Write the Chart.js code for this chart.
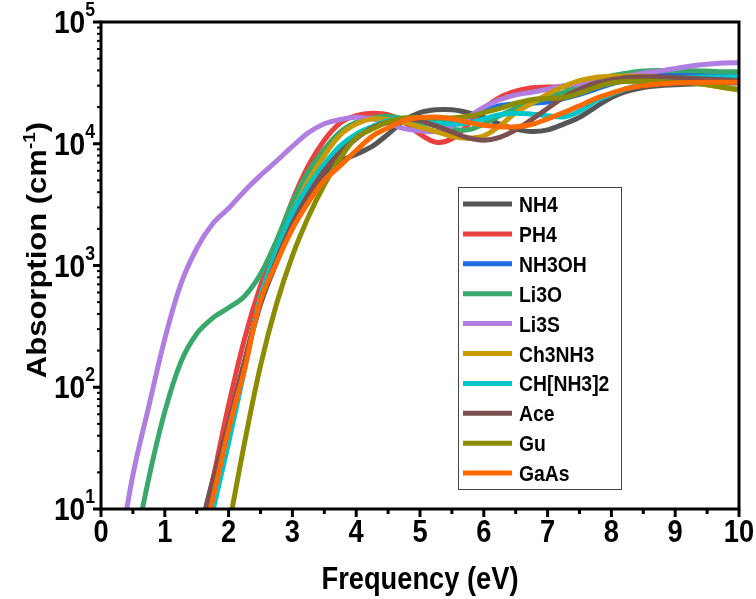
<!DOCTYPE html>
<html><head><meta charset="utf-8">
<script src="https://cdn.jsdelivr.net/npm/chart.js@4.4.1/dist/chart.umd.min.js"></script>
<style>html,body{margin:0;padding:0;background:#fff}#wrap{width:756px;height:599px}</style>
</head><body><div id="wrap"><canvas id="c" width="756" height="599"></canvas></div>
<script>
// Photon energy grid (eV)
const energy = [0,0.25,0.5,0.75,1,1.25,1.5,1.75,2,2.25,2.5,2.75,3,3.25,3.5,3.75,4,4.25,4.5,4.75,5,5.25,5.5,5.75,6,6.25,6.5,6.75,7,7.25,7.5,7.75,8,8.25,8.5,8.75,9,9.25,9.5,9.75,10];
const seriesNames = ["NH4","PH4","NH3OH","Li3O","Li3S","Ch3NH3","CH[NH3]2","Ace","Gu","GaAs"];
// Absorption (cm^-1)
const NH4    = [null,null,null,null,null,null,5,17,50,160,480,1050,2100,3700,5700,7200,8200,9500,12000,15500,18000,19000,19000,18000,16500,14500,13200,12600,13000,14500,16500,20000,24000,27000,29000,30000,30500,31000,31200,31500,31600];
const PH4    = [null,null,null,null,null,null,4,17,71,250,680,1480,3400,6600,10700,14800,17000,17800,17300,15000,12000,10300,11000,14300,19500,24000,27000,28800,29200,29500,30500,32500,34500,36500,37500,38000,38000,37800,37500,37200,37000];
const NH3OH  = [null,null,null,null,null,null,3,11,42,150,520,1150,2400,4200,6400,9200,11800,13700,15300,16000,16000,15500,15500,16500,18500,20500,21200,21500,22000,23500,25500,28000,31000,33500,35500,36500,37000,37000,36800,36700,36700];
const Li3O   = [null,null,4,18,63,160,275,370,450,560,850,1600,3300,5900,9000,12500,15000,16300,16800,16000,15000,14000,13200,13000,14500,17000,19500,21500,24000,26500,30000,33000,36000,38000,39500,40000,40000,39800,39500,39000,39000];
const Li3S   = [null,3.3,19,70,250,700,1380,2200,2950,4100,5500,7200,9500,12300,14600,15800,16500,16000,14800,13300,12800,12600,14000,16500,20000,23000,25200,26500,28000,30000,31000,32000,34000,36000,38000,39500,41500,43500,45000,46000,46200];
const Ch3NH3 = [null,null,null,null,null,null,3,12,45,150,520,1250,2700,4900,8000,11800,14500,16000,15800,15000,13700,12600,11500,11100,11600,14000,18000,21500,25500,29500,33000,35000,35800,36000,35800,35000,34000,32500,30500,29000,27500];
const CHNH32 = [null,null,null,null,null,null,2.5,9.5,35,140,560,1300,2700,4500,6800,9600,12000,13800,15500,16200,16000,15300,14500,14800,16000,17300,17800,17500,17000,16600,18500,22500,25500,28500,31000,33000,34500,35000,35300,35400,35500];
const Ace    = [null,null,null,null,null,null,5,17,50,165,500,1100,2200,3800,6000,8500,11000,13500,15000,16000,15500,14000,12500,11200,10700,11300,13000,15800,19500,24000,28000,31500,33500,35000,35500,35500,35000,34500,34000,33500,33000];
const Gu     = [null,null,null,null,null,null,null,null,7,35,150,480,1200,2500,4600,7600,11200,13200,15100,16300,16400,16300,16300,16800,18000,19500,21500,23000,23500,24000,26000,29000,31500,32500,32800,32500,32000,31500,30500,29000,28000];
const GaAs   = [null,null,null,null,null,null,3.3,12,45,140,520,1050,2000,3300,5000,6600,8800,11500,13500,15500,16400,16600,16000,15000,14200,13800,13800,14400,16000,18000,20500,23500,26000,28500,30000,31000,31500,31800,32000,32000,32000];
const xTicks = [0,1,2,3,4,5,6,7,8,9,10];
const yDecades = [1,2,3,4,5];

const seriesValues = [NH4,PH4,NH3OH,Li3O,Li3S,Ch3NH3,CHNH32,Ace,Gu,GaAs];
const colors = ['#555555','#e8413f','#1f6ee0','#3aa86b','#b07de0','#c99a00','#00c5c8','#7d5050','#8c8c00','#ff6a00'];

const datasets = seriesNames.map((n,i)=>({
  label:n,
  data: energy.map((e,k)=>({x:e,y:seriesValues[i][k]})),
  borderColor:colors[i], backgroundColor:colors[i],
  borderWidth:5, pointRadius:0, fill:false,
  tension:0.35, spanGaps:false,
  borderCapStyle:'butt', clip:0,
  order: seriesNames.length-1-i
}));

const FONT = '"Liberation Sans", Arial, sans-serif';
const SQ = 0.88;
function txt(ctx, s, x, y, size, align){
  ctx.save();
  ctx.font = 'bold '+size+'px '+FONT;
  ctx.textAlign = align; ctx.textBaseline='alphabetic';
  ctx.translate(x,y); ctx.scale(SQ,1);
  ctx.fillText(s,0,0);
  ctx.restore();
}
function w(ctx, s, size){ ctx.save(); ctx.font='bold '+size+'px '+FONT; const m=ctx.measureText(s).width*SQ; ctx.restore(); return m; }

const deco = {
  id:'deco',
  afterDraw(chart){
    const ctx = chart.ctx, a = chart.chartArea, xs = chart.scales.x, ys = chart.scales.y;
    ctx.save();
    ctx.fillStyle='#000'; ctx.strokeStyle='#000';
    ctx.lineWidth=3;
    ctx.strokeRect(a.left, a.top, a.right-a.left, a.bottom-a.top);
    ctx.lineWidth=3;
    for(let v=0; v<=10; v+=0.5){
      const px = xs.getPixelForValue(v);
      const len = Number.isInteger(v)?8:5;
      ctx.beginPath(); ctx.moveTo(px, a.bottom); ctx.lineTo(px, a.bottom+len); ctx.stroke();
    }
    xTicks.forEach(v=>{ txt(ctx, String(v), xs.getPixelForValue(v), a.bottom+33, 31, 'center'); });
    for(let d=1; d<=5; d++){
      for(let m=1; m<=9; m++){
        if(d===5 && m>1) break;
        const val = m*Math.pow(10,d);
        const py = ys.getPixelForValue(val);
        const len = m===1?8:4;
        ctx.lineWidth = m===1?3:2;
        ctx.beginPath(); ctx.moveTo(a.left, py); ctx.lineTo(a.left-len, py); ctx.stroke();
      }
    }
    yDecades.forEach(d=>{
      const py = ys.getPixelForValue(Math.pow(10,d));
      const sup = String(d);
      const sw = w(ctx, sup, 20);
      const right = a.left-6;
      txt(ctx, sup, right, py-6, 20, 'right');
      txt(ctx, '10', right-sw, py+11, 32, 'right');
    });
    txt(ctx, 'Frequency (eV)', (a.left+a.right)/2, 589, 31, 'center');
    ctx.save();
    ctx.translate(46, 250); ctx.rotate(-Math.PI/2); ctx.scale(1,SQ);
    ctx.textBaseline='alphabetic';
    const t1='Absorption (cm', t2='-1', t3=')';
    ctx.font='bold 31px '+FONT; const w1=ctx.measureText(t1).width, w3=ctx.measureText(t3).width;
    ctx.font='bold 19px '+FONT; const w2=ctx.measureText(t2).width;
    let x0 = -(w1+w2+w3)/2;
    ctx.textAlign='left';
    ctx.font='bold 31px '+FONT; ctx.fillText(t1,x0,0);
    ctx.font='bold 19px '+FONT; ctx.fillText(t2,x0+w1,-12);
    ctx.font='bold 31px '+FONT; ctx.fillText(t3,x0+w1+w2,0);
    ctx.restore();
    ctx.lineWidth=1; ctx.strokeStyle='#444';
    ctx.strokeRect(458.5,187.5,163,302);
    seriesNames.forEach((n,i)=>{
      const y = 204 + i*29.9;
      ctx.strokeStyle=colors[i]; ctx.lineWidth=5;
      ctx.beginPath(); ctx.moveTo(463,y); ctx.lineTo(512,y); ctx.stroke();
      ctx.fillStyle='#000';
      txt(ctx, n, 519, y+8, 22, 'left');
    });
    ctx.restore();
  }
};

new Chart(document.getElementById('c'), {
  type:'line',
  data:{datasets},
  options:{
    responsive:false, animation:false, devicePixelRatio:1,
    layout:{padding:{left:101,right:17,top:22,bottom:90}},
    plugins:{legend:{display:false}, tooltip:{enabled:false}},
    scales:{
      x:{type:'linear', min:0, max:10, display:false},
      y:{type:'logarithmic', min:10, max:100000, display:false}
    }
  },
  plugins:[deco]
});
</script></body></html>
